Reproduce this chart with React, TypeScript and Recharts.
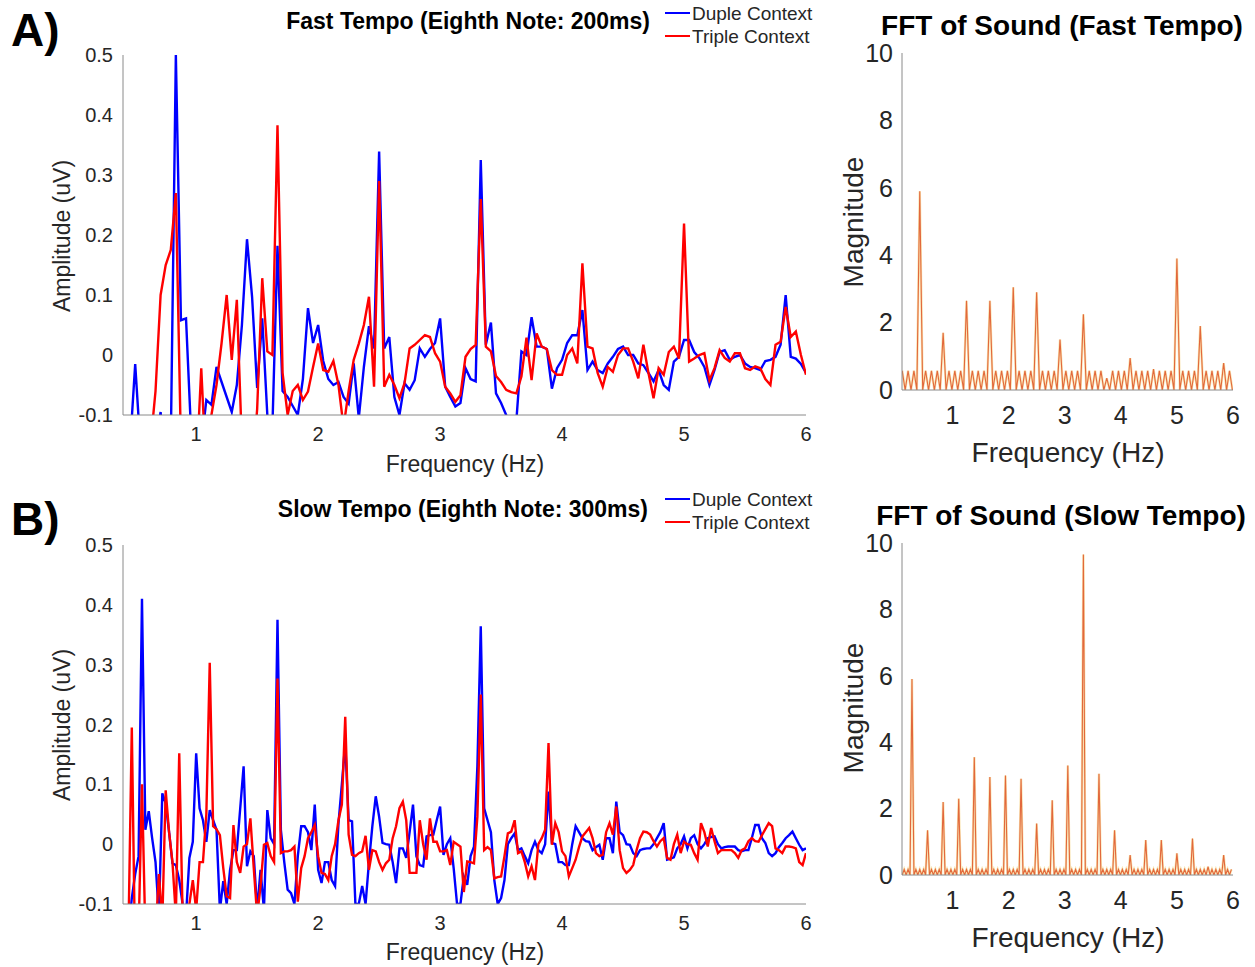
import React from 'react';
import { LineChart, Line, XAxis, YAxis } from 'recharts';

const FONT = '"Liberation Sans", Arial, Helvetica, sans-serif';

// ---------- EEG amplitude spectra, fast tempo (bin width 1/24 Hz, first bin 10) ----------
const FAST_BIN_HZ = 1 / 24;
const FAST_FIRST_BIN = 10;
const fastDuple = [
  -0.2, -0.15, -0.015, -0.15, -0.2, -0.18, -0.15, -0.095, -0.2, -0.15,
  0.5, 0.058, 0.061, -0.13, -0.2, -0.15, -0.075, -0.083, -0.02, -0.045,
  -0.07, -0.095, -0.05, 0.05, 0.193, 0.097, -0.055, 0.061, -0.1, -0.12,
  0.182, -0.06, -0.07, -0.085, -0.1, -0.04, 0.078, 0.02, 0.05, -0.01,
  -0.04, -0.05, -0.045, -0.07, -0.081, -0.014, -0.105, -0.02, 0.048, 0.011,
  0.339, 0.011, 0.03, -0.07, -0.1, -0.047, -0.058, -0.042, 0.011, -0.003,
  0.01, 0.02, 0.061, -0.053, -0.07, -0.086, -0.08, -0.022, -0.04, -0.044,
  0.325, 0.017, 0.054, -0.064, -0.08, -0.1, -0.12, -0.11, 0.006, 0.0,
  0.063, 0.014, 0.014, 0.01, -0.056, -0.022, -0.008, 0.02, 0.033, 0.033,
  0.075, -0.025, -0.011, -0.025, -0.03, -0.014, -0.003, 0.01, 0.014, 0.0,
  0.0, -0.014, -0.017, -0.03, -0.044, -0.025, -0.05, -0.058, -0.011, -0.003,
  0.025, 0.025, 0.005, -0.005, -0.02, -0.05, -0.025, 0.005, 0.008, -0.008,
  -0.003, 0.0, -0.014, -0.02, -0.022, -0.025, -0.01, -0.008, -0.003, 0.017,
  0.1, -0.003, -0.006, -0.015, -0.03,
];
const fastTriple = [
  -0.3, -0.3, -0.3, -0.3, -0.25, -0.15, -0.06, 0.1, 0.15, 0.175,
  0.27, -0.15, -0.3, -0.25, -0.2, -0.022, -0.2, -0.1, -0.05, 0.02,
  0.1, -0.008, 0.092, -0.15, -0.2, -0.2, -0.09, 0.128, 0.006, 0.0,
  0.383, -0.03, -0.1, -0.06, -0.05, -0.075, -0.061, -0.02, 0.019, -0.025,
  -0.028, -0.01, -0.05, -0.12, -0.06, -0.008, 0.019, 0.05, 0.097, -0.053,
  0.29, -0.053, -0.033, -0.05, -0.072, -0.047, 0.011, 0.017, 0.025, 0.033,
  0.03, 0.003, -0.011, -0.053, -0.064, -0.078, -0.067, -0.003, 0.01, 0.017,
  0.26, 0.014, 0.006, -0.035, -0.045, -0.058, -0.062, -0.064, -0.036, 0.029,
  -0.042, 0.036, 0.014, 0.01, -0.025, -0.033, -0.033, 0.0, 0.011, -0.014,
  0.153, 0.014, 0.011, -0.03, -0.053, -0.02, -0.028, 0.0, 0.011, 0.011,
  -0.011, -0.039, 0.017, -0.03, -0.072, -0.022, -0.033, 0.005, 0.014, -0.006,
  0.219, -0.011, -0.006, 0.0, 0.003, -0.042, -0.022, 0.008, -0.005, -0.011,
  0.003, 0.003, -0.022, -0.025, -0.019, -0.022, -0.04, -0.05, 0.017, 0.022,
  0.08, 0.03, 0.039, 0.0, -0.033,
];

// ---------- EEG amplitude spectra, slow tempo (bin width 1/36 Hz, first bin 15) ----------
const SLOW_BIN_HZ = 1 / 36;
const SLOW_FIRST_BIN = 15;
const slowDuple = [
  -0.2, -0.15, -0.09, -0.05, -0.02, 0.41, 0.024, 0.055, 0.01, -0.03,
  -0.12, 0.085, 0.068, 0.02, -0.032, -0.035, -0.06, -0.1, -0.12, -0.023,
  0.004, 0.152, 0.06, 0.04, 0.004, 0.057, 0.04, 0.024, -0.11, -0.062,
  -0.1, -0.043, -0.01, -0.01, 0.06, 0.13, -0.037, -0.012, -0.02, -0.11,
  -0.043, -0.11, 0.057, 0.01, 0.0, 0.375, 0.024, -0.03, -0.076, -0.082,
  -0.1, -0.02, 0.03, 0.03, 0.02, -0.01, 0.066, -0.043, -0.065, -0.03,
  -0.03, -0.06, -0.07, 0.035, 0.1, 0.169, 0.04, 0.038, -0.1, -0.1,
  -0.07, -0.1, -0.03, 0.03, 0.08, 0.046, 0.002, 0.0, -0.001, -0.03,
  -0.065, -0.007, -0.007, -0.023, 0.02, 0.066, -0.02, -0.035, -0.037, 0.013,
  0.015, 0.016, 0.04, 0.063, -0.018, 0.0, 0.01, -0.04, -0.1, -0.1,
  -0.054, -0.068, -0.02, -0.004, 0.13, 0.364, 0.06, 0.04, 0.02, -0.06,
  -0.1, -0.09, -0.06, 0.0, 0.01, 0.018, -0.01, -0.007, -0.02, -0.032,
  -0.01, 0.004, -0.01, -0.015, 0.0, 0.088, 0.002, 0.0, -0.03, -0.03,
  -0.035, -0.035, 0.0, 0.03, 0.02, 0.01, 0.005, 0.004, -0.01, -0.005,
  -0.001, -0.026, 0.01, 0.01, -0.015, 0.071, 0.02, 0.015, 0.0, -0.001,
  -0.015, -0.02, -0.01, -0.008, -0.007, -0.007, 0.0, 0.01, 0.02, 0.035,
  -0.026, -0.024, -0.022, -0.007, 0.0, 0.013, -0.007, 0.01, 0.015, 0.0,
  -0.007, 0.0, 0.01, 0.012, 0.013, 0.0, -0.007, -0.005, -0.004, -0.004,
  -0.004, -0.01, -0.012, -0.01, -0.01, 0.01, 0.032, 0.032, 0.01, 0.002,
  -0.015, -0.02, -0.015, -0.005, 0.002, 0.01, 0.015, 0.021, 0.01, -0.001,
  -0.01, -0.007,
];
const slowTriple = [
  -0.2, -0.15, 0.195, -0.2, -0.15, 0.1, -0.15, -0.2, -0.2, -0.15,
  -0.05, -0.13, 0.09, 0.02, -0.03, -0.12, 0.152, -0.12, -0.15, -0.1,
  -0.06, -0.11, -0.03, -0.03, 0.05, 0.303, 0.03, 0.025, 0.015, -0.04,
  -0.087, -0.09, 0.032, -0.03, -0.048, -0.004, 0.0, 0.043, -0.04, -0.12,
  -0.07, -0.001, 0.002, -0.02, -0.03, 0.277, -0.015, -0.012, -0.012, -0.01,
  -0.004, -0.096, -0.04, -0.02, 0.01, 0.02, 0.032, -0.02, -0.048, -0.05,
  -0.06, -0.02, 0.0, 0.04, 0.066, 0.213, 0.016, -0.018, -0.02, -0.015,
  -0.012, 0.014, -0.043, -0.01, -0.012, -0.03, -0.043, -0.032, -0.026, 0.01,
  0.03, 0.06, 0.071, 0.04, -0.048, -0.048, -0.048, 0.04, 0.0, -0.026,
  0.043, 0.004, 0.004, -0.012, -0.012, -0.01, -0.035, 0.004, 0.0, -0.004,
  -0.08, -0.029, -0.03, -0.032, 0.046, 0.25, -0.01, -0.005, -0.01, -0.057,
  -0.055, -0.054, -0.02, 0.018, 0.021, 0.04, -0.015, -0.012, -0.03, -0.054,
  -0.037, -0.06, 0.0, 0.01, 0.024, 0.169, -0.001, 0.035, 0.02, -0.012,
  -0.02, -0.054, -0.04, -0.026, -0.005, 0.013, 0.02, 0.027, 0.01, -0.015,
  -0.02, -0.018, 0.02, 0.035, 0.016, 0.063, -0.01, -0.04, -0.048, -0.043,
  -0.035, -0.01, 0.01, 0.021, 0.02, 0.016, 0.005, -0.004, 0.005, 0.01,
  -0.023, -0.026, 0.0, 0.016, -0.015, 0.004, 0.0, -0.001, -0.015, -0.026,
  0.035, 0.02, -0.004, 0.027, 0.005, -0.015, -0.01, -0.01, -0.01, -0.01,
  -0.015, -0.023, -0.01, -0.007, 0.005, 0.01, 0.005, 0.004, 0.015, 0.025,
  0.035, 0.03, -0.007, -0.01, -0.015, -0.004, -0.004, -0.005, -0.007, -0.03,
  -0.035, -0.015,
];

// ---------- FFT of the sound, fast tempo (bin width 5/96 Hz, first bin 2) ----------
const SOUND_FAST_BIN_HZ = 5 / 96;
const SOUND_FAST_FIRST_BIN = 2;
const soundFast = [
  0.57, 0, 0.57, 0, 0.57, 0,
  5.9, 0, 0.57, 0, 0.57, 0, 0.57, 0,
  1.7, 0, 0.57, 0, 0.57, 0, 0.57, 0,
  2.65, 0, 0.57, 0, 0.57, 0, 0.57, 0,
  2.65, 0, 0.57, 0, 0.57, 0, 0.57, 0,
  3.05, 0, 0.57, 0, 0.57, 0, 0.57, 0,
  2.9, 0, 0.57, 0, 0.57, 0, 0.57, 0,
  1.5, 0, 0.57, 0, 0.57, 0, 0.57, 0,
  2.25, 0, 0.57, 0, 0.57, 0, 0.57, 0,
  0.35, 0, 0.57, 0, 0.57, 0, 0.57, 0,
  0.95, 0, 0.57, 0, 0.57, 0, 0.57, 0,
  0.62, 0, 0.57, 0, 0.57, 0, 0.57, 0,
  3.9, 0, 0.57, 0, 0.57, 0, 0.57, 0,
  1.9, 0, 0.57, 0, 0.57, 0, 0.57, 0,
  0.8, 0, 0.57, 0,
];

// ---------- FFT of the sound, slow tempo (bin width 5/144 Hz, first bin 3) ----------
const SOUND_SLOW_BIN_HZ = 5 / 144;
const SOUND_SLOW_FIRST_BIN = 3;
const soundSlow = [
  0, 0.17, 0, 0.17, 0,
  5.9, 0, 0.17, 0, 0.17, 0, 0.17, 0,
  1.35, 0, 0.17, 0, 0.17, 0, 0.17, 0,
  2.2, 0, 0.17, 0, 0.17, 0, 0.17, 0,
  2.3, 0, 0.17, 0, 0.17, 0, 0.17, 0,
  3.55, 0, 0.17, 0, 0.17, 0, 0.17, 0,
  2.95, 0, 0.17, 0, 0.17, 0, 0.17, 0,
  3.0, 0, 0.17, 0, 0.17, 0, 0.17, 0,
  2.9, 0, 0.17, 0, 0.17, 0, 0.17, 0,
  1.55, 0, 0.17, 0, 0.17, 0, 0.17, 0,
  2.25, 0, 0.17, 0, 0.17, 0, 0.17, 0,
  3.3, 0, 0.17, 0, 0.17, 0, 0.17, 0,
  9.65, 0, 0.17, 0, 0.17, 0, 0.17, 0,
  3.05, 0, 0.17, 0, 0.17, 0, 0.17, 0,
  1.35, 0, 0.17, 0, 0.17, 0, 0.17, 0,
  0.6, 0, 0.17, 0, 0.17, 0, 0.17, 0,
  1.05, 0, 0.17, 0, 0.17, 0, 0.17, 0,
  1.05, 0, 0.17, 0, 0.17, 0, 0.17, 0,
  0.65, 0, 0.17, 0, 0.17, 0, 0.17, 0,
  1.1, 0, 0.17, 0, 0.17, 0, 0.17, 0,
  0.25, 0, 0.17, 0, 0.17, 0, 0.17, 0,
  0.6, 0, 0.17, 0, 0.17,
];

// ---------- ticks ----------
const ampTicks = [-0.1, 0, 0.1, 0.2, 0.3, 0.4, 0.5];
const freqTicks = [1, 2, 3, 4, 5, 6];
const magTicks = [0, 2, 4, 6, 8, 10];

const fastData = fastDuple.map((v, i) => ({
  f: (FAST_FIRST_BIN + i) * FAST_BIN_HZ,
  duple: v,
  triple: fastTriple[i],
}));
const slowData = slowDuple.map((v, i) => ({
  f: (SLOW_FIRST_BIN + i) * SLOW_BIN_HZ,
  duple: v,
  triple: slowTriple[i],
}));
const soundFastData = soundFast.map((v, i) => ({
  f: (SOUND_FAST_FIRST_BIN + i) * SOUND_FAST_BIN_HZ,
  mag: v,
}));
const soundSlowData = soundSlow.map((v, i) => ({
  f: (SOUND_SLOW_FIRST_BIN + i) * SOUND_SLOW_BIN_HZ,
  mag: v,
}));

const AXIS_COLOR = '#8a8a8a';
const TEXT_COLOR = '#262626';

function EegPanel({ data, top, bottomAxisH }: { data: any[]; top: number; bottomAxisH: number }) {
  return (
    <div style={{ position: 'absolute', left: 0, top }}>
      <LineChart width={830} height={480} data={data} margin={{ top: 55, right: 24, bottom: 0, left: 0 }}>
        <XAxis
          type="number"
          dataKey="f"
          domain={[0.4, 6]}
          ticks={freqTicks}
          allowDataOverflow
          height={bottomAxisH}
          tickLine={false}
          tickMargin={6}
          axisLine={{ stroke: AXIS_COLOR, strokeWidth: 1 }}
          tick={{ fill: TEXT_COLOR, fontSize: 20, fontFamily: FONT }}
        />
        <YAxis
          type="number"
          domain={[-0.1, 0.5]}
          ticks={ampTicks}
          allowDataOverflow
          width={123}
          tickLine={false}
          tickMargin={4}
          axisLine={{ stroke: AXIS_COLOR, strokeWidth: 1 }}
          tick={{ fill: TEXT_COLOR, fontSize: 20, fontFamily: FONT }}
        />
        <Line type="linear" dataKey="duple" stroke="#0000ff" strokeWidth={2.4} dot={false} isAnimationActive={false} />
        <Line type="linear" dataKey="triple" stroke="#ff0000" strokeWidth={2.4} dot={false} isAnimationActive={false} />
      </LineChart>
    </div>
  );
}

function SoundPanel({ data, top, bottomAxisH }: { data: any[]; top: number; bottomAxisH: number }) {
  return (
    <div style={{ position: 'absolute', left: 830, top }}>
      <LineChart width={425} height={480} data={data} margin={{ top: 53, right: 22, bottom: 0, left: 0 }}>
        <XAxis
          type="number"
          dataKey="f"
          domain={[0.1, 6]}
          ticks={freqTicks}
          allowDataOverflow
          height={bottomAxisH}
          tickLine={false}
          tickMargin={10}
          axisLine={{ stroke: AXIS_COLOR, strokeWidth: 1 }}
          tick={{ fill: TEXT_COLOR, fontSize: 25, fontFamily: FONT }}
        />
        <YAxis
          type="number"
          domain={[0, 10]}
          ticks={magTicks}
          allowDataOverflow
          width={72}
          tickLine={false}
          tickMargin={3}
          axisLine={{ stroke: AXIS_COLOR, strokeWidth: 1 }}
          tick={{ fill: TEXT_COLOR, fontSize: 25, fontFamily: FONT }}
        />
        <Line type="linear" dataKey="mag" stroke="#EDB120" strokeOpacity={0.35} strokeWidth={2.4} dot={false} isAnimationActive={false} />
        <Line type="linear" dataKey="mag" stroke="#E2683C" strokeWidth={1.1} dot={false} isAnimationActive={false} />
      </LineChart>
    </div>
  );
}

function Overlay() {
  const t = { fontFamily: FONT };
  return (
    <svg width={1255} height={967} style={{ position: 'absolute', left: 0, top: 0, pointerEvents: 'none' }}>
      {/* Panel A */}
      <text x={11} y={46} fontSize={46} fontWeight="bold" fill="#000" style={t}>A)</text>
      <text x={650} y={29} fontSize={23} fontWeight="bold" fill="#000" textAnchor="end" style={t}>Fast Tempo (Eighth Note: 200ms)</text>
      <line x1={665} y1={13} x2={690} y2={13} stroke="#0000ff" strokeWidth={2} />
      <text x={692} y={20} fontSize={19} fill={TEXT_COLOR} style={t}>Duple Context</text>
      <line x1={665} y1={36} x2={690} y2={36} stroke="#ff0000" strokeWidth={2} />
      <text x={692} y={43} fontSize={19} fill={TEXT_COLOR} style={t}>Triple Context</text>
      <text x={0} y={0} fontSize={23} fill={TEXT_COLOR} textAnchor="middle" transform="translate(70,236) rotate(-90)" style={t}>Amplitude (uV)</text>
      <text x={465} y={472} fontSize={23} fill={TEXT_COLOR} textAnchor="middle" style={t}>Frequency (Hz)</text>
      <text x={1062} y={35} fontSize={28} fontWeight="bold" fill="#000" textAnchor="middle" style={t}>FFT of Sound (Fast Tempo)</text>
      <text x={0} y={0} fontSize={28} fill={TEXT_COLOR} textAnchor="middle" transform="translate(863,222) rotate(-90)" style={t}>Magnitude</text>
      <text x={1068} y={462} fontSize={28} fill={TEXT_COLOR} textAnchor="middle" style={t}>Frequency (Hz)</text>

      {/* Panel B */}
      <text x={11} y={535} fontSize={46} fontWeight="bold" fill="#000" style={t}>B)</text>
      <text x={648} y={517} fontSize={23} fontWeight="bold" fill="#000" textAnchor="end" style={t}>Slow Tempo (Eighth Note: 300ms)</text>
      <line x1={665} y1={499} x2={690} y2={499} stroke="#0000ff" strokeWidth={2} />
      <text x={692} y={506} fontSize={19} fill={TEXT_COLOR} style={t}>Duple Context</text>
      <line x1={665} y1={522} x2={690} y2={522} stroke="#ff0000" strokeWidth={2} />
      <text x={692} y={529} fontSize={19} fill={TEXT_COLOR} style={t}>Triple Context</text>
      <text x={0} y={0} fontSize={23} fill={TEXT_COLOR} textAnchor="middle" transform="translate(70,725) rotate(-90)" style={t}>Amplitude (uV)</text>
      <text x={465} y={960} fontSize={23} fill={TEXT_COLOR} textAnchor="middle" style={t}>Frequency (Hz)</text>
      <text x={1061} y={525} fontSize={28} fontWeight="bold" fill="#000" textAnchor="middle" style={t}>FFT of Sound (Slow Tempo)</text>
      <text x={0} y={0} fontSize={28} fill={TEXT_COLOR} textAnchor="middle" transform="translate(863,708) rotate(-90)" style={t}>Magnitude</text>
      <text x={1068} y={947} fontSize={28} fill={TEXT_COLOR} textAnchor="middle" style={t}>Frequency (Hz)</text>
    </svg>
  );
}

export default function App() {
  return (
    <div style={{ position: 'absolute', left: 0, top: 0, width: 1255, height: 967, background: '#fff', fontFamily: FONT }}>
      <EegPanel data={fastData} top={0} bottomAxisH={65} />
      <SoundPanel data={soundFastData} top={0} bottomAxisH={90} />
      <EegPanel data={slowData} top={490} bottomAxisH={66} />
      <SoundPanel data={soundSlowData} top={490} bottomAxisH={95} />
      <Overlay />
    </div>
  );
}
